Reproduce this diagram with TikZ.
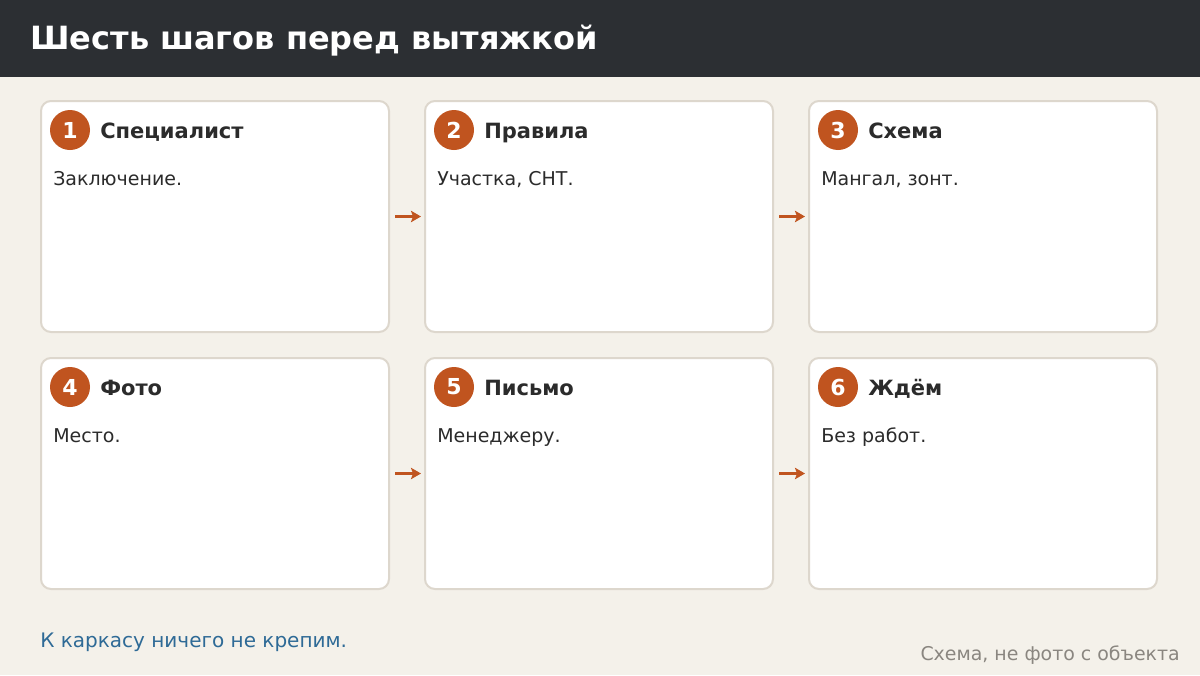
\documentclass[tikz,border=0pt]{standalone}
\usepackage{fontspec}
\setmainfont{DejaVu Sans}
\usetikzlibrary{positioning,arrows.meta}
\definecolor{carta}{HTML}{F4F1EA}
\definecolor{lavagna}{HTML}{2C2F33}
\definecolor{ruggine}{HTML}{C0541F}
\definecolor{bordo}{HTML}{DDD7CD}
\definecolor{inchiostro}{HTML}{2B2B2B}
\definecolor{nota}{HTML}{2E6A96}
\definecolor{grigio}{HTML}{8A8680}
\tikzstyle{board}=[
    card/.style={rectangle, draw=bordo, line width=1.5pt, fill=white,
        rounded corners=7.5pt, minimum width=261pt, minimum height=173.25pt, inner sep=0pt},
    badge/.style={circle, fill=ruggine, minimum size=30pt, inner sep=0pt,
        text=white, font={\fontsize{16.5}{18}\bfseries}},
    card title/.style={anchor=base west, inner sep=0pt, text=inchiostro,
        font={\fontsize{15.75}{18}\bfseries}},
    card text/.style={anchor=base west, inner sep=0pt, text=inchiostro,
        font={\fontsize{14.25}{16}\selectfont}},
    link/.style={ruggine, line width=2.4pt, -{Stealth[length=7.5pt,width=8.5pt,inset=1.5pt]}},
]
\newcommand{\stepcard}[5]{
    \node[card] (#1) at (#2) {};
    \node[badge] (#1n) at ([shift={(30,30)}]#1.north west) {#3};
    \node[card title] (#1t) at ([shift={(60,38)}]#1.north west) {#4};
    \node[card text] (#1b) at ([shift={(13,85)}]#1.north west) {#5};
}

\begin{document}
\begin{tikzpicture}
[
    board,
    x=0.75pt, y=-0.75pt
]
    \fill[carta] (0,0) rectangle (1200,675);
    \fill[lavagna] (0,0) rectangle (1200,77);
    \node[anchor=west, inner sep=0pt, text=white, font={\fontsize{24}{28}\bfseries}] (head) at (30,40.5) {Шесть шагов перед вытяжкой};

    \stepcard{c1}{215,216.5}{1}{Специалист}{Заключение.}
    \stepcard{c2}{599,216.5}{2}{Правила}{Участка, СНТ.}
    \stepcard{c3}{983,216.5}{3}{Схема}{Мангал, зонт.}
    \stepcard{c4}{215,473.5}{4}{Фото}{Место.}
    \stepcard{c5}{599,473.5}{5}{Письмо}{Менеджеру.}
    \stepcard{c6}{983,473.5}{6}{Ждём}{Без работ.}

    \foreach \a/\b in {c1/c2, c2/c3, c4/c5, c5/c6}
        \draw[link] ([xshift=3.75pt]\a.east) -- ([xshift=-2.25pt]\b.west);

    \node[anchor=west, inner sep=0pt, text=nota, font={\fontsize{15}{18}\selectfont}] (foot) at (40,642) {К каркасу ничего не крепим.};
    \node[anchor=east, inner sep=0pt, text=grigio, font={\fontsize{14.2}{17}\selectfont}] (src) at (1180,655) {Схема, не фото с объекта};
\end{tikzpicture}
\end{document}
